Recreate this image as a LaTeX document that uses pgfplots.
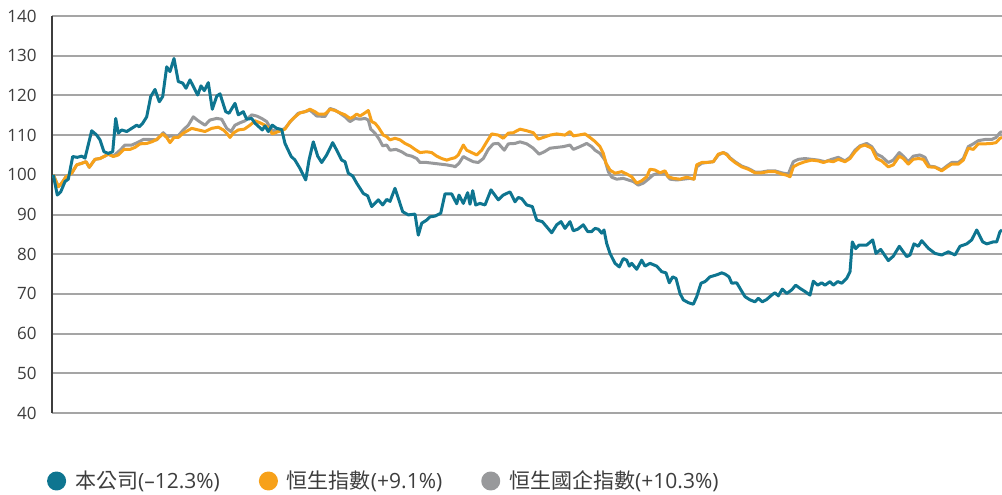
\documentclass[border=0pt]{standalone}
\usepackage{pgfplots}
\pgfplotsset{compat=1.18}
\usepackage{fontspec}
\setmainfont{Open Sans}
\newfontfamily\cjk{Noto Sans CJK TC}
\definecolor{cblue}{RGB}{14,117,144}
\definecolor{corange}{RGB}{247,161,26}
\definecolor{cgray}{RGB}{152,153,155}
\definecolor{gridc}{RGB}{165,165,165}
\definecolor{txt}{RGB}{61,61,61}
\begin{document}
\begin{tikzpicture}
\begin{axis}[
  scale only axis, width=475pt, height=198.5pt,
  xmin=52, xmax=1002, ymin=40, ymax=140,
  axis x line=bottom, axis y line=left,
  x axis line style={draw=gridc, line width=1pt, -},
  y axis line style={draw=txt, line width=0.75pt, -},
  xtick=\empty, ytick={40,50,...,140},
  major tick length=0pt,
  ymajorgrids, grid style={draw=gridc, line width=1pt},
  /pgf/number format/assume math mode=true,
  yticklabel style={font=\fontsize{8.5}{10}\selectfont, text=txt, inner sep=0pt, anchor=east, xshift=-7.5pt},
  legend columns=3, reverse legend,
  legend style={at={(0,0)}, anchor=west, xshift=-2.65pt, yshift=-34pt, draw=none, fill=none, inner sep=0pt,
    font=\fontsize{10.5}{12}\selectfont, text=txt,
    nodes={inner sep=0pt},
    /tikz/every odd column/.append style={column sep=4.5pt},
    /tikz/every even column/.append style={column sep=19.5pt}},
  legend image code/.code={\fill (4pt,0pt) circle (4pt);},
]
\addplot[cgray, line width=1.5pt, line join=round] coordinates {
(53.3,100)(58.3,97)(61.7,97.9)(66,99.5)(71.7,100.4)(76.7,102.5)(81.7,102.9)(86,103.3)(89.3,101.9)(95,103.9)(100,104.1)(104,104.6)(108.3,105.2)
(113.3,104.7)(120,106.2)(125,107.5)(131.7,107.5)(137.3,108.1)(143.3,108.9)(149.3,108.9)(156.7,108.8)(163.3,110.6)(167.3,109.6)(171.7,109.8)(176.7,109.4)(183.3,111.3)(188.3,112.5)(193.3,114.6)(198.3,113.6)(205,112.5)(210,113.8)(216.7,114.2)(221.7,114)(226.7,111.7)(231,110.9)(235,112.5)(240,113.1)(245,113.6)(251.7,115.1)(256.7,114.8)(261.7,114.2)(266.7,113.4)(271.7,111.3)(278.3,110.9)(285,111.7)(291.7,113.8)(298.3,115.5)(305,115.9)(310,116.3)(316.7,114.8)(325,114.7)(330,116.7)(335,116.3)(340,115.5)(345,114.6)(350,113.4)(355,114.2)(360,114)(365,114.2)(368.3,113.8)(370.7,111.5)(375,110.5)(379.3,108.9)(382.7,107.3)(386.7,107.5)(390,106.2)(396,106.4)(401.7,105.8)(406.7,105)(411.7,104.7)(416.7,104.1)(420,103.1)(426.7,103.1)(433.3,102.9)(440,102.7)(446.7,102.5)(453.3,102.2)(455,102)(459,102.9)(463.3,104.6)(468.3,103.9)(473.3,103.3)(478.3,103.1)(483.3,104.1)(488.3,106.4)(493.3,107.8)(498.3,107.9)(504.3,106.2)(508.3,107.8)(515,107.9)(520,108.3)(526.7,107.8)(533.3,106.7)(539,105.2)(544.3,105.8)(550,106.7)(556.7,106.9)(563.3,107.1)(570,107.5)(573.3,106.4)(580,107.1)(586.7,107.9)(591.7,107.1)(595,106.2)(600,105.4)(605,103.7)(608.3,100.8)(611.7,99.4)(616.7,98.9)(623.3,99.1)(628.3,98.7)(633.3,98.3)(638.3,97.4)(643.3,97.9)(648.3,98.9)(653.3,100)(660,100.5)(665,100.4)(670,98.9)(676.7,98.7)(683.3,98.9)(690,99.1)(694,98.9)(696.7,102)(701.7,102.9)(706.7,103.1)(713.3,103.3)(718.3,105)(723.3,105.6)(727,105.2)(730,104.3)(735,103.3)(741.7,102.2)(748.3,101.6)(755,100.7)(761.7,100.7)(768.3,101)(775,101)(781.7,100.5)(788.3,100.2)(793.3,103.3)(798.3,103.9)(805,104.1)(811.7,103.9)(818.3,103.7)(825,103.3)(831.7,103.9)(838.3,104.4)(845,103.5)(850,104.4)(855,106.2)(860,107.3)(866.7,107.9)(871.7,107.1)(876.7,105.2)(881.7,104.6)(888.3,103.1)(893.3,103.7)(899.3,105.6)(903.3,104.7)(908.3,103.3)(913.3,104.7)(920,105)(925,104.4)(929.3,102.2)(935,102)(941.7,101.2)(946.7,102.2)(951.7,103.1)(958.3,103.1)(963.3,104.1)(968.3,107.1)(973.3,107.8)(978.3,108.6)(985,108.9)(991.7,108.9)(996,109.4)(1000,110.6)(1002,110.9)
};
\addlegendentry{{\cjk 恒生國企指數}(+10.3\%)}
\addplot[corange, line width=1.5pt, line join=round] coordinates {
(53.3,100)(58.3,97)(61.7,97.9)(66,99.5)(71.7,100.4)(76.7,102.5)(81.7,102.9)(86,103.3)(89.3,101.9)(95,103.9)(100,104.1)(104,104.6)(108.3,105.2)(113.3,104.6)(118.3,105)(124,106.4)(130,106.4)(135,106.9)(140,107.8)(146.7,107.9)(151.7,108.3)(156.7,108.9)(162.7,110.3)(166.7,109.4)(170,108.1)(174,109.4)(178.3,109.4)(183.3,110.5)(191.7,111.7)(198.3,111.3)(205,110.9)(211.7,111.7)(218.3,112)(223.3,111.3)(226.7,110.5)(230,109.4)(233.3,110.5)(238.3,111.3)(244.3,111.5)(250,112.5)(255,113.6)(260,113.1)(265,112.5)(269,111.7)(272.3,110.3)(278.3,110.9)(285,111.5)(290,113.4)(295,114.6)(300,115.6)(305,115.9)(310,116.5)(315,115.9)(318.3,115.3)(325,115.3)(330,116.5)(335,116.2)(340,115.6)(345,115.1)(350,114.2)(353.3,114.6)(356.7,115.3)(360,114.8)(365,115.6)(368.3,116.2)(371.7,113.4)(375,113)(378.3,112)(383.3,110)(386.7,109.6)(390,108.8)(395,109.2)(400,108.8)(405,107.9)(410,107.3)(415,106.4)(420,105.6)(426.7,105.8)(431.7,105.6)(436.7,104.7)(441.7,104.1)(446.7,103.7)(451.7,104.1)(455,104.3)(458.3,105)(463.3,107.5)(466.7,106.2)(471.7,105.6)(476.7,105)(481.7,106.2)(486.7,108.3)(491.7,110.3)(498.3,110)(503.3,109.2)(508.3,110.5)(513.3,110.6)(520,111.5)(526.7,111.1)(533.3,110.6)(538.3,109)(543.3,109.4)(550,110)(556.7,110.3)(565,110)(570,110.9)(573.3,109.8)(578.3,110)(585,110.3)(590,109.4)(595,108.4)(600,107.1)(603.3,105.4)(606,102.9)(610,101.2)(615,100.4)(621.7,100.8)(626.7,100.2)(631.7,99.5)(636.7,97.9)(641.7,98.5)(646.7,99.5)(650,101.4)(655,101.2)(660,100.5)(665,101)(668.3,99.5)(673.3,99.1)(680,98.9)(686.7,99.4)(694,98.9)(696.7,102.5)(701.7,103.1)(706.7,103.1)(713.3,103.3)(718.3,105.2)(723.3,105.6)(727,105)(730,104.1)(735,103.1)(741.7,102)(748.3,101.4)(755,100.5)(761.7,100.5)(768.3,100.8)(775,100.8)(781.7,100.2)(786.7,99.9)(790,99.5)(793.3,102)(798.3,102.7)(805,103.3)(811.7,103.7)(818.3,103.5)(823.3,103.1)(828.3,103.5)(833.3,103.3)(838.3,103.9)(845,103.3)(850,104.1)(855,105.8)(860,107.1)(865,107.5)(871.7,106.7)(876.7,104.1)(881.7,103.5)(888.3,102)(893.3,102.5)(899.3,104.7)(903.3,104.1)(908.3,102.7)(913.3,103.9)(918.3,104.1)(923.3,103.9)(928.3,102)(935,101.9)(941.7,101)(946.7,101.9)(951.7,102.7)(958.3,102.7)(963.3,103.7)(968.3,106.7)(973.3,106.4)(978.3,107.8)(985,107.8)(991.7,107.9)(996,108.1)(1000,109.2)(1002,109.4)
};
\addlegendentry{{\cjk 恒生指數}(+9.1\%)}
\addplot[cblue, line width=1.5pt, line join=round] coordinates {
(53.3,100)(57.3,94.9)(60.7,95.7)(65,98.3)(68.3,98.9)(72.7,104.6)(77.3,104.4)(81.7,104.7)(85,104.2)(91.7,111.1)(96.7,110)(100,108.8)(104,105.8)(108.3,105.4)(112.7,105.8)(115.7,114.2)(118.3,110.5)(121.7,111.3)(126.7,110.9)(131.7,111.7)(136.7,112.5)(139.3,112.1)(142.7,113)(146.7,114.6)(150.7,119.7)(155,121.5)(159.3,118.4)(162.7,119.7)(166.7,127.2)(170,126)(174,129.3)(178.3,123.5)(182.7,123.1)(186,121.8)(190,123.9)(197.7,120.1)(201,122.4)(204.3,121.2)(208.3,123.2)(212.3,116.5)(216.7,119.8)(220,120.4)(225.7,115.9)(229,115.5)(235,118)(238.3,115.1)(243.3,115.9)(246.7,114)(251.7,114.2)(255,113)(262.3,111.3)(265,112.3)(268.3,110.9)(272.3,112.5)(276.7,111.7)(281.7,111.4)(285,107.9)(291,104.7)(295,103.7)(300,101.6)(305.7,98.7)(309,103.7)(313.3,108.3)(317.7,104.7)(321.7,103.1)(326.7,105)(332.7,108.1)(336.7,106.2)(341.7,103.7)(345,103.3)(348.3,100.4)(352.7,99.7)(356.7,97.9)(363.3,95.3)(367.7,94.7)(371.7,92)(378.3,93.7)(382.7,92.4)(386.7,93.8)(390,93.3)(395,96.6)(402.7,90.7)(408.3,89.9)(415,90.1)(418.3,84.8)(421.7,87.8)(426.7,88.6)(430,89.4)(435,89.6)(440.7,90.3)(445,95.2)(451.7,95.2)(456.7,92.7)(459,94.9)(463.3,92.8)(467.7,95.5)(470,92.6)(472.7,96)(475.7,92.4)(480,92.8)(485,92.4)(491,96.2)(498.3,93.7)(503.3,94.9)(510,95.7)(515,93.2)(518.3,94.3)(521.7,94)(526.7,92.4)(532.3,92)(536.7,88.6)(542.3,88.2)(546.7,86.9)(551.7,85.4)(556.7,87.4)(561,88.2)(565,86.5)(570,88.2)(573.3,85.9)(577.7,86.3)(583.3,87.4)(587.7,85.7)(591.7,85.7)(595,86.5)(598.3,86.3)(601.7,85.3)(604,86.1)(606.7,82.7)(610,80.2)(615,77.7)(619.3,76.8)(623.3,78.9)(626.7,78.5)(629.3,77)(631.7,77.7)(636.7,76.2)(641.7,78.5)(645,77)(650,77.7)(656.7,77)(661.7,75.6)(666,75.3)(669.3,72.8)(672.7,74.3)(676,73.9)(680,70.1)(683.3,68.5)(688.3,67.8)(693.3,67.4)(696.7,69.3)(701,72.7)(705,73.1)(710,74.3)(716.7,74.8)(721.7,75.3)(725,75)(729,74.3)(731.7,72.7)(736.7,72.8)(740,71.4)(745,69.3)(750,68.5)(755,68)(758.3,68.9)(762.3,68)(766.7,68.6)(771.7,69.7)(775,70.3)(778.3,69.5)(782.3,71.2)(786.7,70.1)(791.7,71)(795.7,72.2)(800,71.4)(805,70.6)(810,69.7)(813.3,73.2)(817.7,72.2)(821.7,72.8)(825,72.2)(830,73.1)(833.3,72.2)(837.7,73.1)(841.7,72.7)(846.7,73.9)(850,75.6)(852.3,83.1)(855.7,81.4)(859,82.3)(866.7,82.3)(872.7,83.6)(876,80.2)(880.7,81.2)(888.3,78.4)(893.3,79.5)(899.3,82)(906.7,79.4)(910,79.8)(914,82.6)(918.3,82)(921.7,83.4)(928.3,81.5)(935,80.2)(941.7,79.8)(948.3,80.6)(955,79.8)(960,82)(966.7,82.6)(971.7,83.6)(976.7,86.1)(982.7,83.1)(986.7,82.6)(993.3,83.1)(996.7,83.1)(1000,85.7)(1002,86.1)
};
\addlegendentry{{\cjk 本公司}(–12.3\%)}
\end{axis}
\pgfresetboundingbox
\path (-26pt,-40.5pt) rectangle (475pt,206.5pt);
\end{tikzpicture}
\end{document}
